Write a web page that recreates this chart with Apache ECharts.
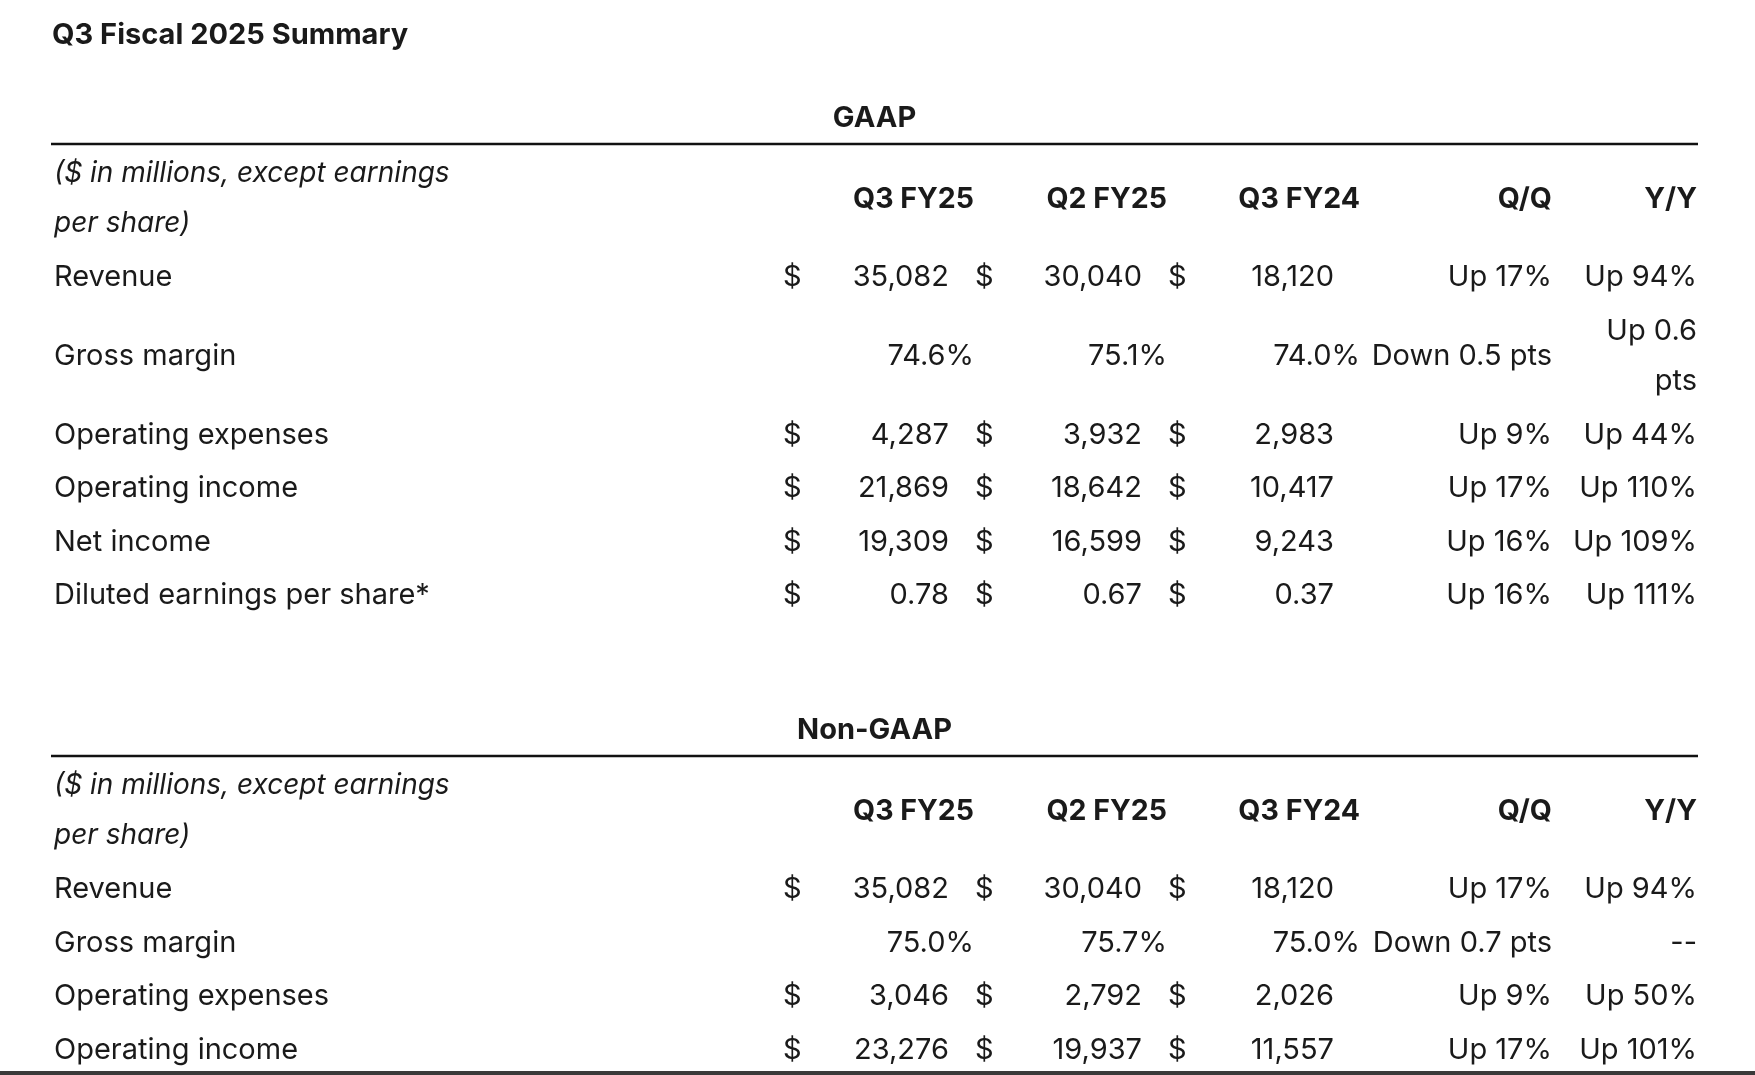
<!DOCTYPE html>
<html lang="en">
<head>
    <meta charset="UTF-8">
    <title>Q3 Fiscal 2025 Summary</title>
    <script src="https://cdn.jsdelivr.net/npm/echarts@6/dist/echarts.min.js"></script>
    <style>
        html, body { margin: 0; padding: 0; background: #fff; }
        #chart { width: 1755px; height: 1075px; }
    </style>
</head>
<body>
<div id="chart"></div>
<script>
// ---- data ----
var title = 'Q3 Fiscal 2025 Summary';
var unitNote = '($ in millions, except earnings\nper share)';
var headers = ['Q3 FY25', 'Q2 FY25', 'Q3 FY24', 'Q/Q', 'Y/Y'];

var gaapRows = ['Revenue', 'Gross margin', 'Operating expenses', 'Operating income', 'Net income', 'Diluted earnings per share*'];
var gaapQ3FY25 = ['35,082', '74.6%', '4,287', '21,869', '19,309', '0.78'];
var gaapQ2FY25 = ['30,040', '75.1%', '3,932', '18,642', '16,599', '0.67'];
var gaapQ3FY24 = ['18,120', '74.0%', '2,983', '10,417', '9,243', '0.37'];
var gaapQoQ = ['Up 17%', 'Down 0.5 pts', 'Up 9%', 'Up 17%', 'Up 16%', 'Up 16%'];
var gaapYoY = ['Up 94%', 'Up 0.6\npts', 'Up 44%', 'Up 110%', 'Up 109%', 'Up 111%'];

var nonGaapRows = ['Revenue', 'Gross margin', 'Operating expenses', 'Operating income'];
var nonGaapQ3FY25 = ['35,082', '75.0%', '3,046', '23,276'];
var nonGaapQ2FY25 = ['30,040', '75.7%', '2,792', '19,937'];
var nonGaapQ3FY24 = ['18,120', '75.0%', '2,026', '11,557'];
var nonGaapQoQ = ['Up 17%', 'Down 0.7 pts', 'Up 9%', 'Up 17%'];
var nonGaapYoY = ['Up 94%', '--', 'Up 50%', 'Up 101%'];

var sections = [
    { name: 'GAAP', rows: gaapRows, cols: [gaapQ3FY25, gaapQ2FY25, gaapQ3FY24], qoq: gaapQoQ, yoy: gaapYoY },
    { name: 'Non-GAAP', rows: nonGaapRows, cols: [nonGaapQ3FY25, nonGaapQ2FY25, nonGaapQ3FY24], qoq: nonGaapQoQ, yoy: nonGaapYoY }
];

// ---- layout ----
var W = 1755, H = 1075;
var FONT = 'Inter, "Noto Sans", sans-serif';
var INK = '#1a1a1a';
var tableLeft = 51, tableRight = 1698;
var labelX = 54;
var dollarX = [783, 975, 1168];
var numX = [949, 1142, 1334];
var pctX = [974, 1167, 1360];
var qoqX = 1552, yoyX = 1697;
var firstHeadingY = 118, headingToRule = 26, sectionGap = 109.5;
var row1 = 53.5, row2 = 104, lineH = 50, textShift = 2;

var cells = [];   // text marks: [x, y] go through the axes
var rules = [];   // horizontal rules under section headings

function addCell(x, y, text, kind) {
    cells.push({ value: [x, y], text: text, kind: kind });
}
function lineCount(list) {
    var n = 1;
    list.forEach(function (t) { n = Math.max(n, String(t).split('\n').length); });
    return n;
}

var headingY = firstHeadingY;
sections.forEach(function (sec) {
    addCell((tableLeft + tableRight) / 2, headingY, sec.name, 'section');
    var ruleY = headingY + headingToRule;
    rules.push(ruleY);
    var top = ruleY + 1 + textShift;

    // header row
    var h = lineCount([unitNote]) > 1 ? row2 : row1;
    var cy = top + h / 2;
    addCell(labelX, cy, unitNote, 'note');
    headers.forEach(function (t, i) {
        var x = i < 3 ? pctX[i] : (i === 3 ? qoqX : yoyX);
        addCell(x, cy, t, 'head');
    });
    top += h;

    sec.rows.forEach(function (label, r) {
        var rowCells = [label, sec.qoq[r], sec.yoy[r]].concat(sec.cols.map(function (c) { return c[r]; }));
        var rh = lineCount(rowCells) > 1 ? row2 : row1;
        var y = top + rh / 2;
        addCell(labelX, y, label, 'label');
        sec.cols.forEach(function (col, i) {
            var v = col[r];
            if (/%$/.test(v)) {
                addCell(pctX[i], y, v, 'num');
            } else {
                addCell(dollarX[i], y, '$', 'label');
                addCell(numX[i], y, v, 'num');
            }
        });
        addCell(qoqX, y, sec.qoq[r], 'num');
        addCell(yoyX, y, sec.yoy[r], 'num');
        top += rh;
    });
    headingY = top - textShift + sectionGap;
});

var styles = {
    section: { align: 'center', fontWeight: 'bold', fontStyle: 'normal', fontSize: 29 },
    head:    { align: 'right',  fontWeight: 'bold', fontStyle: 'normal', fontSize: 28.5 },
    note:    { align: 'left',   fontWeight: 'normal', fontStyle: 'italic', fontSize: 28 },
    label:   { align: 'left',   fontWeight: 'normal', fontStyle: 'normal', fontSize: 29 },
    num:     { align: 'right',  fontWeight: 'normal', fontStyle: 'normal', fontSize: 29 }
};

var option = {
    animation: false,
    backgroundColor: '#ffffff',
    title: {
        text: title,
        left: 52, top: 21, padding: 0,
        textStyle: { fontFamily: FONT, fontWeight: 'bold', fontSize: 29, color: INK }
    },
    grid: { left: 0, right: 0, top: 0, bottom: 0 },
    xAxis: { type: 'value', min: 0, max: W, show: false },
    yAxis: { type: 'value', min: 0, max: H, inverse: true, show: false },
    series: [
        {
            type: 'custom',
            silent: true,
            data: cells.map(function (c) { return c.value; }),
            renderItem: function (params, api) {
                var c = cells[params.dataIndex];
                var s = styles[c.kind];
                var p = api.coord([api.value(0), api.value(1)]);
                return {
                    type: 'text',
                    x: p[0], y: p[1],
                    style: {
                        text: c.text,
                        fill: INK,
                        fontFamily: FONT,
                        fontSize: s.fontSize,
                        fontWeight: s.fontWeight,
                        fontStyle: s.fontStyle,
                        align: s.align,
                        verticalAlign: 'middle',
                        lineHeight: lineH
                    }
                };
            }
        },
        {
            type: 'custom',
            silent: true,
            data: rules.map(function (y) { return [tableLeft, y, tableRight]; }),
            renderItem: function (params, api) {
                var a = api.coord([api.value(0), api.value(1)]);
                var b = api.coord([api.value(2), api.value(1)]);
                return {
                    type: 'line',
                    shape: { x1: a[0], y1: a[1], x2: b[0], y2: b[1] },
                    style: { stroke: '#111111', lineWidth: 2.5 }
                };
            }
        }
    ],
    graphic: [
        { type: 'rect', left: 0, bottom: 0, shape: { width: W, height: 4 }, style: { fill: '#3a3a3a' }, silent: true }
    ]
};

var myChart = echarts.init(document.getElementById('chart'));
myChart.setOption(option);
</script>
</body>
</html>
